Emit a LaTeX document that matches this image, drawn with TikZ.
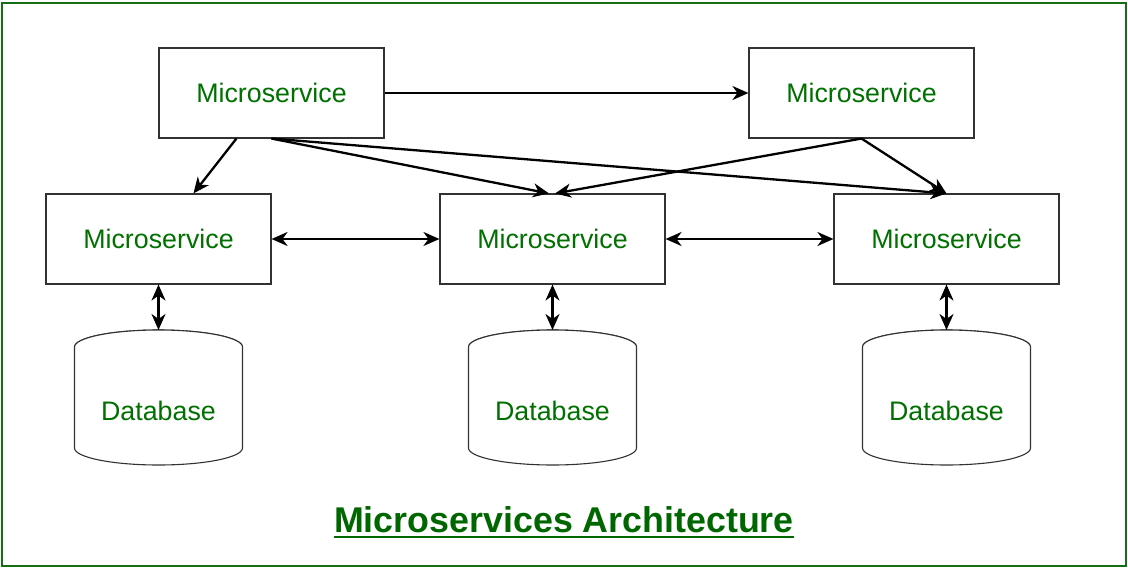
\documentclass[tikz,border=0pt]{standalone}
\usepackage{fontspec}
\setmainfont{Liberation Sans}
\usetikzlibrary{arrows.meta,calc}
\definecolor{txtgreen}{RGB}{0,112,0}
\definecolor{titlegreen}{RGB}{0,102,0}
\definecolor{frame}{RGB}{20,110,20}
\definecolor{boxline}{RGB}{50,50,50}
\tikzset{
  tip/.tip={Stealth[length=16pt,width=14pt,inset=5pt]},
  msbox/.style={draw=boxline, line width=1.1pt, minimum width=225pt, minimum height=90pt,
    inner sep=0pt, font=\fontsize{26.8}{30}\selectfont, text=txtgreen},
  dbtext/.style={inner sep=0pt, font=\fontsize{26.8}{30}\selectfont, text=txtgreen},
  conn/.style={line width=2.3pt, -tip},
  bconn/.style={line width=2.3pt, tip-tip},
  cyl/.style={draw=boxline, line width=1.1pt, fill=white},
}
\begin{document}
\begin{tikzpicture}[x=1pt,y=-1pt]
\useasboundingbox (0,0) rectangle (1128,570);
\draw[frame, line width=1.2pt] (2,3) rectangle (1126,566);

\node[msbox] (tl) at (271.5,93) {Microservice};
\node[msbox] (tr) at (861.5,93) {Microservice};
\node[msbox] (l) at (158.5,239) {Microservice};
\node[msbox] (m) at (552.5,239) {Microservice};
\node[msbox] (r) at (946.5,239) {Microservice};

% databases
\foreach \cx/\nm in {158.5/1,552.5/2,946.5/3}{
  \draw[cyl] (\cx-84,347) -- (\cx-84,448) arc[start angle=180,end angle=360,x radius=84,y radius=-17]
    -- (\cx+84,347) arc[start angle=0,end angle=180,x radius=84,y radius=-17] -- cycle;
  \draw[cyl] (\cx-84,347) arc[start angle=180,end angle=360,x radius=84,y radius=17];
  \coordinate (dbtop\nm) at (\cx,330);
}
\node[dbtext] (db1) at (158.5,411) {Database};
\node[dbtext] (db2) at (552.5,411) {Database};
\node[dbtext] (db3) at (946.5,411) {Database};

% connectors
\draw[conn] (tl.east) -- (tr.west);
\draw[conn] ([xshift=78pt]tl.south west) -- ([xshift=148pt]l.north west);
\draw[conn] (tl.south) -- ([xshift=-3.5pt]m.north);
\draw[conn] (tl.south) -- (r.north);
\draw[conn] (tr.south) -- ([xshift=2.5pt]m.north);
\draw[conn] (tr.south) -- (r.north);
\draw[bconn] (l.east) -- (m.west);
\draw[bconn] (m.east) -- (r.west);
\draw[bconn] (l.south) -- (dbtop1);
\draw[bconn] (m.south) -- (dbtop2);
\draw[bconn] (r.south) -- (dbtop3);

% title
\node[inner sep=0pt, anchor=base, text=titlegreen, font=\fontsize{35.8}{40}\selectfont\bfseries]
  (title) at (564,532.7) {Microservices Architecture};
\draw[titlegreen, line width=2.2pt] ([yshift=-4pt]title.base west) -- ([yshift=-4pt]title.base east);
\end{tikzpicture}
\end{document}
